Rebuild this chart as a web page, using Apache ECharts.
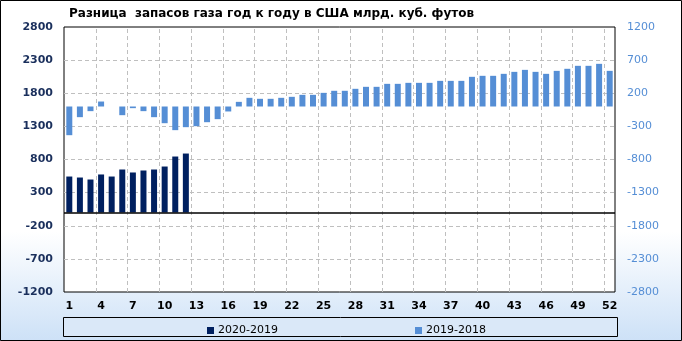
<!DOCTYPE html>
<html>
<head>
<meta charset="utf-8">
<script src="https://cdn.jsdelivr.net/npm/echarts@6/dist/echarts.min.js"></script>
<style>html,body{margin:0;padding:0;background:#fff}#c{width:682px;height:341px}</style>
</head>
<body>
<div id="c"></div>
<script>
var titleText = 'Разница  запасов газа год к году в США млрд. куб. футов';
var weeks = [];
for (var i = 1; i <= 52; i++) weeks.push(String(i));
var seriesNames = ['2020-2019', '2019-2018'];
// 2020 vs 2019 (left axis), weeks 1-12
var diff2020 = [543, 528, 498, 574, 543, 649, 604, 634, 649, 694, 845, 890];
// 2019 vs 2018 (right axis), weeks 1-52
var diff2019 = [-433, -161, -70, 75, 0, -131, -25, -70, -161, -252,
  -357, -312, -297, -237, -191, -75, 70, 131, 116, 116,
  131, 146, 176, 176, 206, 237, 237, 267, 297, 297,
  342, 342, 357, 357, 357, 387, 387, 387, 448, 463,
  463, 493, 523, 553, 523, 493, 538, 569, 614, 614,
  644, 538];
var leftTicks = {min: -1200, max: 2800, step: 500};
var rightTicks = {min: -2800, max: 1200, step: 500};
var labelEvery = 3;

// grid line positions derived from the tick settings
var hGrid = [];
for (var v = leftTicks.min + leftTicks.step; v < leftTicks.max; v += leftTicks.step) hGrid.push({yAxis: v});
var vGrid = [];
for (var w = labelEvery; w < weeks.length; w += labelEvery) vGrid.push({xAxis: w});

var chart = echarts.init(document.getElementById('c'), null, {renderer: 'canvas'});
var font = '"DejaVu Sans", sans-serif';
var plain = function (v) { return String(v); };
var gridLineStyle = {color: '#bfbfbf', width: 1, type: [4, 3]};
chart.setOption({
  animation: false,
  backgroundColor: {
    type: 'linear', x: 0, y: 0, x2: 0, y2: 1,
    colorStops: [{offset: 0, color: '#ffffff'}, {offset: 0.68, color: '#ffffff'}, {offset: 1, color: '#cde1f7'}]
  },
  title: {
    text: titleText, left: 64, top: 3,
    textStyle: {fontFamily: font, fontWeight: 'bold', fontSize: 12, color: '#000'}
  },
  graphic: [
    {type: 'rect', shape: {x: 0.5, y: 0.5, width: 681, height: 340}, style: {fill: 'none', stroke: '#000', lineWidth: 1}, z: 100, silent: true},
    {type: 'rect', shape: {x: 63.5, y: 317.5, width: 554, height: 19}, style: {fill: '#dae8f8', stroke: '#000', lineWidth: 1}, z: -10, silent: true}
  ],
  legend: [
    {data: [seriesNames[0]], left: 202, top: 320, itemWidth: 7, itemHeight: 7, itemGap: 4, icon: 'rect',
      textStyle: {fontFamily: font, fontSize: 11, color: '#000', padding: [0, 0, 0, -1]}},
    {data: [seriesNames[1]], left: 410, top: 320, itemWidth: 7, itemHeight: 7, itemGap: 4, icon: 'rect',
      textStyle: {fontFamily: font, fontSize: 11, color: '#000', padding: [0, 0, 0, -1]}}
  ],
  grid: {left: 64, right: 67, top: 27, bottom: 49, show: true, backgroundColor: '#fff', borderColor: '#000', borderWidth: 1},
  xAxis: [
    {type: 'category', data: weeks, boundaryGap: true,
      axisLine: {show: false}, axisTick: {show: false},
      axisLabel: {interval: labelEvery - 1, margin: 9, fontFamily: font, fontWeight: 'bold', fontSize: 11, color: '#000'},
      splitLine: {show: false}},
    {type: 'value', min: 0, max: weeks.length, show: false, splitLine: {show: false}}
  ],
  yAxis: [
    {type: 'value', min: leftTicks.min, max: leftTicks.max, interval: leftTicks.step,
      axisLine: {show: false}, axisTick: {show: false},
      axisLabel: {margin: 11, formatter: plain, fontFamily: font, fontWeight: 'bold', fontSize: 11, color: '#1a2f5c'},
      splitLine: {show: false}},
    {type: 'value', min: rightTicks.min, max: rightTicks.max, interval: rightTicks.step, position: 'right',
      axisLine: {show: false}, axisTick: {show: false},
      axisLabel: {margin: 12, formatter: plain, fontFamily: font, fontSize: 11, color: '#558ed5'},
      splitLine: {show: false}}
  ],
  series: [
    {name: 'grid', type: 'line', xAxisIndex: 1, yAxisIndex: 0, data: [], z: 1, silent: true,
      markLine: {silent: true, z: 1, symbol: 'none', label: {show: false}, emphasis: {disabled: true},
        lineStyle: gridLineStyle, data: hGrid.concat(vGrid)}},
    {name: seriesNames[0], type: 'bar', xAxisIndex: 0, yAxisIndex: 0, data: diff2020, barWidth: 6, barGap: '-100%', z: 3,
      itemStyle: {color: '#002060'},
      markLine: {silent: true, z: 6, symbol: 'none', label: {show: false},
        lineStyle: {color: '#000', width: 1.5, type: 'solid'}, data: [{yAxis: 0}]}},
    {name: seriesNames[1], type: 'bar', xAxisIndex: 0, yAxisIndex: 1, data: diff2019, barWidth: 6, barGap: '-100%', z: 3,
      itemStyle: {color: '#558ed5'}}
  ]
});
</script>
</body>
</html>
